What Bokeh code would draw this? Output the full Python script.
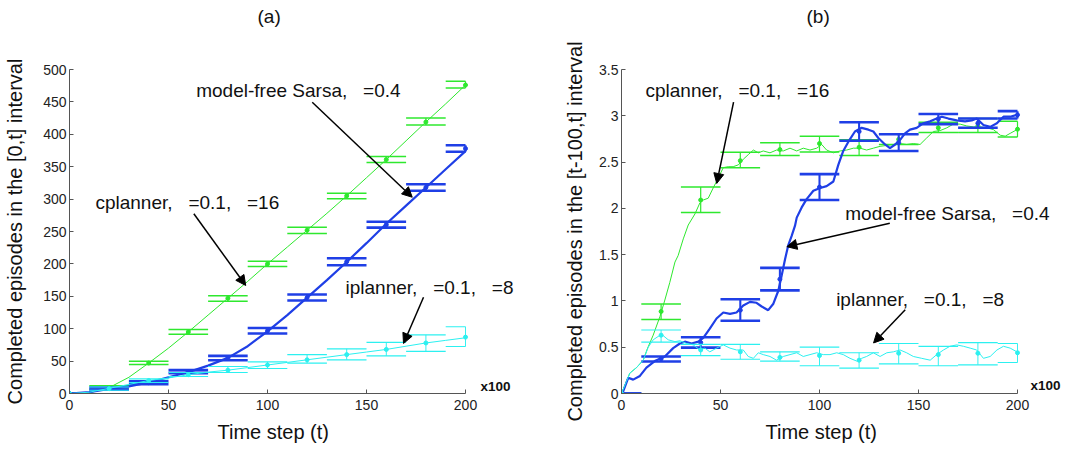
from bokeh.plotting import figure
from bokeh.layouts import row
from bokeh.models import (Range1d, Label, Arrow, NormalHead, FixedTicker,
                          NumeralTickFormatter, Title)
from bokeh.embed import file_html
from bokeh.resources import INLINE

# ---------------- data: panel (a) cumulative episodes ----------------
a_curve_t = [0, 10, 20, 30, 40, 50, 60, 70, 80, 90, 100, 110, 120, 130, 140, 150, 160, 170, 180, 190, 200]
a_green_curve = [0, 1, 9, 25, 47, 70, 95, 121, 147, 173, 200, 226, 252, 278, 305, 333, 361, 390, 419, 447, 476]
a_blue_curve = [0, 2, 7, 11, 17, 25, 33, 43, 55, 73, 96, 121, 148, 175, 203, 232, 262, 290, 318, 346, 374]
a_cyan_curve = [0, 2, 8, 14, 20, 24, 29, 33, 36, 40, 44, 48, 52, 56, 60, 64, 68, 73, 78, 82, 86]

err_t = [0, 20, 40, 60, 80, 100, 120, 140, 160, 180, 200]
a_green_mean = [0, 9, 47, 95, 147, 200, 252, 305, 361, 419, 476]
a_green_lo = [0, 6.7, 44.8, 91.6, 142.5, 196, 247, 300.5, 356.5, 414.5, 471.5]
a_green_hi = [0, 11.8, 49.9, 98.8, 151, 204, 256.7, 309, 365.8, 425, 482]
a_blue_mean = [0, 7.5, 16.7, 33.7, 54.7, 96.8, 148, 203.4, 260.5, 318, 378]
a_blue_lo = [0, 5.7, 14.4, 31.4, 51.4, 92.6, 143.5, 198, 256, 313, 373]
a_blue_hi = [0, 9.3, 19, 36, 58, 101, 152.8, 208.8, 265, 323, 383]
a_cyan_mean = [0, 7.5, 20, 29, 36, 44, 52, 60, 68, 78, 87]
a_cyan_lo = [0, 5, 17, 26.2, 32.4, 38.6, 46.8, 52, 58, 65, 72.5]
a_cyan_hi = [0, 10, 22.6, 32.4, 41.7, 48.9, 60, 69, 79, 90.5, 103]

# ---------------- data: panel (b) episodes in sliding window ----------------
b_green_t = [0, 2.5, 4.2, 7.6, 11, 13, 16, 19.4, 21.9, 24.4, 27, 28.6, 31.2, 33.7, 37.1, 39.6, 41.3,
             43.8, 46.3, 48.9, 51.4, 53.9, 56.4, 59, 61.5, 64, 66.6, 69.1, 71.6, 75, 78.3, 81.7, 85.1,
             88.5, 91.8, 95.2, 98.6, 101.1, 103.6, 107, 110.4, 113.7, 117.1, 120.5, 123.8, 127.2,
             130.6, 134, 137.3, 140.7, 144, 147.4, 150.8, 154.1, 157.5, 160.9, 164.3, 167.6, 171,
             174.4, 177.8, 181.1, 184.5, 187.9, 191.3, 193.8, 196.3, 199.7]
b_green_y = [0, 0.13, 0.22, 0.28, 0.36, 0.48, 0.63, 0.83, 1.01, 1.20, 1.42, 1.49, 1.67, 1.82, 1.94,
             2.06, 2.09, 2.11, 2.22, 2.33, 2.44, 2.45, 2.45, 2.47, 2.53, 2.58, 2.63, 2.60, 2.62, 2.60,
             2.63, 2.62, 2.65, 2.62, 2.65, 2.63, 2.65, 2.69, 2.63, 2.60, 2.62, 2.63, 2.65, 2.65, 2.63,
             2.65, 2.67, 2.68, 2.69, 2.70, 2.69, 2.70, 2.69, 2.76, 2.83, 2.84, 2.87, 2.91, 2.91, 2.89,
             2.88, 2.88, 2.87, 2.85, 2.79, 2.78, 2.81, 2.85]
b_blue_t = [0, 0.8, 3.4, 5.9, 9.3, 12.6, 16.8, 21.9, 26.1, 29.5, 32, 35.4, 38.8, 41.3, 44.6, 48, 51.4,
            54.8, 58.1, 61.5, 64.9, 68.2, 70.8, 74.1, 76.7, 79.2, 80.9, 82.6, 84.2, 85.9, 87.6, 88.5,
            91, 93.5, 96.9, 100.3, 103.6, 107, 109.5, 112, 114.6, 117.9, 121.3, 124.7, 127.2, 129.7,
            133.1, 135.6, 138.2, 140.7, 143.2, 145.7, 149.1, 152.5, 155.9, 159.2, 161.8, 165.1, 169.3,
            173.5, 176.9, 179.4, 182.8, 186.2, 189.6, 192.9, 196.3, 199.7]
b_blue_y = [0, 0.02, 0.17, 0.15, 0.19, 0.28, 0.35, 0.40, 0.49, 0.54, 0.56, 0.54, 0.56, 0.60, 0.70,
            0.81, 0.875, 0.86, 0.875, 0.95, 0.99, 0.98, 0.94, 0.90, 0.97, 1.11, 1.275, 1.45, 1.60,
            1.70, 1.81, 1.90, 2.01, 2.10, 2.19, 2.22, 2.24, 2.29, 2.47, 2.62, 2.72, 2.83, 2.87, 2.85,
            2.83, 2.76, 2.69, 2.65, 2.69, 2.74, 2.81, 2.85, 2.87, 2.92, 2.94, 2.97, 2.99, 2.97, 2.95,
            2.94, 2.95, 2.97, 2.90, 2.88, 2.92, 2.99, 2.99, 3.01]
b_cyan_t = [0, 2.5, 4.2, 7.6, 11, 13.5, 16, 20.2, 23.6, 27, 29.5, 32.9, 36.2, 39.6, 42.1, 44.6, 48,
            51.4, 54.8, 58.1, 61.5, 64, 66.6, 69.1, 71.6, 75, 78.3, 81.7, 85.1, 88.5, 91.8, 95.2,
            98.6, 101.9, 105.3, 108.7, 112, 115.4, 118.8, 121.3, 123.8, 127.2, 130.6, 134, 137.3,
            140.7, 144, 147.4, 151.6, 155.9, 159.2, 162.6, 165.9, 169.3, 172.7, 176.1, 179.4, 182.8,
            186.2, 189.6, 192.9, 196.3, 199.7]
b_cyan_y = [0, 0.13, 0.22, 0.28, 0.36, 0.50, 0.58, 0.64, 0.58, 0.56, 0.57, 0.54, 0.525, 0.47, 0.49,
            0.45, 0.49, 0.525, 0.49, 0.47, 0.47, 0.40, 0.38, 0.44, 0.42, 0.40, 0.36, 0.40, 0.42, 0.44,
            0.40, 0.42, 0.44, 0.42, 0.42, 0.44, 0.42, 0.38, 0.35, 0.38, 0.40, 0.44, 0.40, 0.44, 0.45,
            0.47, 0.44, 0.40, 0.38, 0.36, 0.42, 0.47, 0.51, 0.525, 0.51, 0.49, 0.47, 0.38, 0.40, 0.47,
            0.51, 0.49, 0.45]

b_green_mean = [0, 0.886, 2.09, 2.515, 2.635, 2.70, 2.66, 2.745, 2.87, 2.89, 2.855]
b_green_lo = [0, 0.80, 1.955, 2.44, 2.57, 2.61, 2.57, 2.69, 2.82, 2.82, 2.77]
b_green_hi = [0, 0.966, 2.23, 2.605, 2.71, 2.78, 2.74, 2.80, 2.93, 2.97, 2.94]
b_blue_mean = [0, 0.375, 0.55, 0.90, 1.235, 2.23, 2.83, 2.71, 2.965, 2.92, 3.01]
b_blue_lo = [0, 0.346, 0.496, 0.786, 1.114, 2.09, 2.73, 2.62, 2.91, 2.87, 2.97]
b_blue_hi = [0, 0.40, 0.607, 1.018, 1.357, 2.37, 2.93, 2.80, 3.02, 2.97, 3.05]
b_cyan_mean = [0, 0.63, 0.47, 0.45, 0.39, 0.41, 0.36, 0.435, 0.42, 0.435, 0.44]
b_cyan_lo = [0, 0.554, 0.41, 0.37, 0.35, 0.30, 0.275, 0.32, 0.30, 0.31, 0.335]
b_cyan_hi = [0, 0.686, 0.53, 0.53, 0.45, 0.50, 0.44, 0.54, 0.51, 0.55, 0.54]

x_ticks = [0, 50, 100, 150, 200]
a_y_ticks = [0, 50, 100, 150, 200, 250, 300, 350, 400, 450, 500]
b_y_ticks = [0, 0.5, 1, 1.5, 2, 2.5, 3, 3.5]

# the Greek symbols of the original did not render; their gaps are kept
GAP = " \u00a0 "
label_sarsa = "model-free Sarsa," + GAP + "=0.4"
label_cplanner = "cplanner," + GAP + "=0.1," + GAP + "=16"
label_iplanner = "iplanner," + GAP + "=0.1," + GAP + "=8"

# ---------------- styling / layout ----------------
FONT = "Liberation Sans"
GREEN = "#2ee82e"
BLUE = "#1f3fe6"
CYAN = "#2cf0f0"
AXIS = "#555555"
CAP_HALF = 10
X_MAX = 200
PANEL_W = 543
PANEL_H = 450
AXIS_PX = 396          # pixel length of the 0..200 x axis
FRAME_TOP = 69
FRAME_BOTTOM_BORDER = 57


def make_fig(ymax, yticks, ylabel, left, ystandoff, title, title_off, xlab_off):
    frame_w = PANEL_W - left
    p = figure(width=PANEL_W, height=PANEL_H,
               x_range=Range1d(0, X_MAX * frame_w / AXIS_PX),
               y_range=Range1d(0, ymax),
               output_backend="svg", toolbar_location=None,
               min_border_left=left, min_border_right=0,
               min_border_top=FRAME_TOP, min_border_bottom=FRAME_BOTTOM_BORDER)
    p.outline_line_color = None
    p.grid.visible = False
    p.background_fill_color = "white"
    p.border_fill_color = "white"
    p.xaxis.ticker = FixedTicker(ticks=x_ticks)
    p.yaxis.ticker = FixedTicker(ticks=yticks)
    p.yaxis.formatter = NumeralTickFormatter(format="0.[0]")
    p.xaxis.bounds = (0, X_MAX)
    p.yaxis.bounds = (0, ymax)
    for ax in (p.xaxis, p.yaxis):
        ax.axis_line_color = AXIS
        ax.major_tick_line_color = AXIS
        ax.major_tick_in = 4
        ax.major_tick_out = 0
        ax.minor_tick_line_color = None
        ax.major_label_text_font = FONT
        ax.major_label_text_font_size = "14px"
        ax.major_label_text_color = "#222222"
        ax.axis_label_text_font = FONT
        ax.axis_label_text_font_size = "20px"
        ax.axis_label_text_font_style = "normal"
        ax.axis_label_text_color = "#111111"
    p.yaxis.major_label_standoff = 3
    p.xaxis.major_label_standoff = 6
    p.yaxis.axis_label = ylabel
    p.yaxis.axis_label_standoff = ystandoff
    # default title unused
    p.title.text = ""
    p.title.visible = False
    # blank spacer next to the frame, then the panel title above it
    p.add_layout(Title(text="\u00a0", text_font=FONT, text_font_size="19px",
                       standoff=18), "above")
    p.add_layout(Title(text=title, align="left", offset=title_off,
                       text_font=FONT, text_font_size="19px", text_font_style="normal",
                       text_color="#111111", standoff=4), "above")
    # x axis title
    p.add_layout(Title(text="Time step (t)", align="left", offset=xlab_off,
                       text_font=FONT, text_font_size="20px", text_font_style="normal",
                       text_color="#111111", standoff=12), "below")
    return p


def errbars(p, t, lo, hi, mean, color, lw):
    x0 = [max(v - CAP_HALF, 0) for v in t]
    x1 = [min(v + CAP_HALF, X_MAX) for v in t]
    p.segment(x0=x0, y0=lo, x1=x1, y1=lo, line_color=color, line_width=lw)
    p.segment(x0=x0, y0=hi, x1=x1, y1=hi, line_color=color, line_width=lw)
    p.segment(x0=t, y0=lo, x1=t, y1=hi, line_color=color, line_width=lw * 0.8)
    p.scatter(t, mean, size=4, color=color)


def text(p, x, y, s, align="left", size="19px", style="normal"):
    p.add_layout(Label(x=x, y=y, text=s, text_font=FONT, text_font_size=size,
                       text_font_style=style, text_align=align, text_baseline="middle",
                       text_color="#111111"))


def arrow(p, xs, ys, xe, ye):
    p.add_layout(Arrow(end=NormalHead(size=10, fill_color="black", line_color="black"),
                       x_start=xs, y_start=ys, x_end=xe, y_end=ye,
                       line_color="black", line_width=1.5))


# ---------------- panel (a) ----------------
pa = make_fig(500, a_y_ticks, "Completed episodes in the [0,t] interval", 69, 14,
              "(a)", 188, 148)
pa.line(a_curve_t, a_green_curve, line_color=GREEN, line_width=1)
errbars(pa, err_t, a_green_lo, a_green_hi, a_green_mean, GREEN, 1.5)
pa.line(a_curve_t, a_blue_curve, line_color=BLUE, line_width=2.2)
errbars(pa, err_t, a_blue_lo, a_blue_hi, a_blue_mean, BLUE, 2.6)
pa.line(a_curve_t, a_cyan_curve, line_color=CYAN, line_width=1)
errbars(pa, err_t, a_cyan_lo, a_cyan_hi, a_cyan_mean, CYAN, 1.2)

text(pa, 207.6, 10.8, "x100", size="13.5px", style="bold")
text(pa, 64, 467.6, label_sarsa)
arrow(pa, 122.6, 449.5, 173.1, 302.9)
text(pa, 13.1, 295.2, label_cplanner)
arrow(pa, 62.8, 277.3, 89.0, 166.7)
text(pa, 139.4, 164, label_iplanner)
arrow(pa, 178.8, 148.6, 168.7, 77.2)

# ---------------- panel (b) ----------------
pb = make_fig(3.5, b_y_ticks, "Completed episodes in the [t-100,t] interval", 78, 10,
              "(b)", 185, 144)
pb.line(b_green_t, b_green_y, line_color=GREEN, line_width=1)
errbars(pb, err_t, b_green_lo, b_green_hi, b_green_mean, GREEN, 1.5)
pb.line(b_blue_t, b_blue_y, line_color=BLUE, line_width=2.2)
errbars(pb, err_t, b_blue_lo, b_blue_hi, b_blue_mean, BLUE, 2.6)
pb.line(b_cyan_t, b_cyan_y, line_color=CYAN, line_width=1)
errbars(pb, err_t, b_cyan_lo, b_cyan_hi, b_cyan_mean, CYAN, 1.2)

text(pb, 206.6, 0.086, "x100", size="13.5px", style="bold")
text(pb, 12.1, 3.274, label_cplanner)
arrow(pb, 56.6, 3.148, 48.1, 2.269)
text(pb, 113, 1.946, label_sarsa)
arrow(pb, 135.5, 1.84, 83.5, 1.586)
text(pb, 108.4, 1.012, label_iplanner)
arrow(pb, 143.3, 0.905, 127.3, 0.546)

layout = row(pa, pb, spacing=0)
open("out.html", "w").write(file_html(layout, INLINE))
